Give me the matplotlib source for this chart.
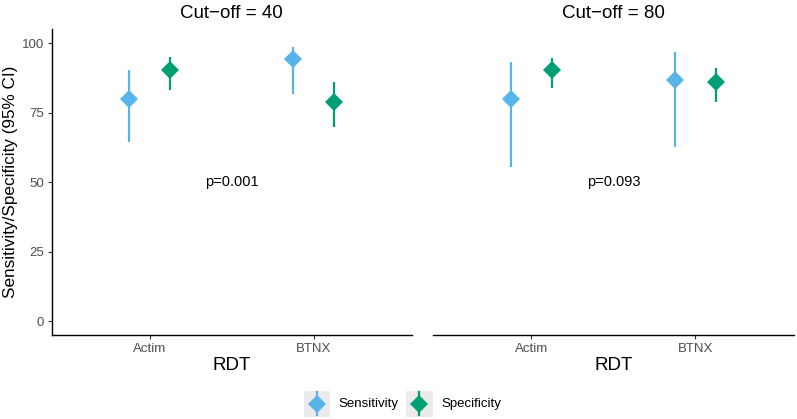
import matplotlib.pyplot as plt
from matplotlib.lines import Line2D
from matplotlib.patches import Rectangle

plt.rcParams["font.family"] = ["Liberation Sans", "DejaVu Sans"]

# data
rdt = ["Actim", "BTNX"]
cutoffs = [40, 80]
p_values = ["p=0.001", "p=0.093"]

sens_est = [[80.0, 94.3], [80.0, 86.6]]
sens_lo = [[64.4, 81.6], [55.4, 62.6]]
sens_hi = [[90.2, 98.8], [93.4, 96.8]]

spec_est = [[90.4, 79.0], [90.4, 86.1]]
spec_lo = [[83.0, 69.8], [83.8, 78.8]]
spec_hi = [[95.2, 86.1], [94.7, 91.2]]

col_sens = "#56B4E9"
col_spec = "#009E73"
dodge = 0.125

fig = plt.figure(figsize=(7.97, 4.19), dpi=100)
ax1 = fig.add_axes([0.0649, 0.2005, 0.4517, 0.7296])
ax2 = fig.add_axes([0.5429, 0.2005, 0.4533, 0.7296])

for i, ax in enumerate([ax1, ax2]):
    xs = [1, 2]
    series = [
        (sens_est[i], sens_lo[i], sens_hi[i], col_sens, -dodge),
        (spec_est[i], spec_lo[i], spec_hi[i], col_spec, dodge),
    ]
    for est, lo, hi, col, off in series:
        for j in range(len(xs)):
            ax.plot([xs[j] + off, xs[j] + off], [lo[j], hi[j]], color=col, lw=1.6,
                    solid_capstyle="butt", zorder=2)
        ax.plot([x + off for x in xs], est, linestyle="none", marker="D",
                markersize=9.5, color=col, markeredgewidth=0, zorder=3)

    ax.text(1.5, 50, p_values[i], ha="center", va="center", fontsize=10.5, color="black")

    ax.set_xlim(0.4, 2.6)
    ax.set_ylim(-5, 105)
    ax.set_xticks(xs)
    ax.set_xticklabels(rdt)
    ax.set_yticks([0, 25, 50, 75, 100])
    ax.set_title("Cut\u2212off = %d" % cutoffs[i], fontsize=13.5, pad=8)
    ax.set_xlabel("RDT", fontsize=13.5, labelpad=2)
    ax.tick_params(axis="both", length=3, width=0.8, color="#333333",
                   labelcolor="#4D4D4D", labelsize=9.5, pad=2.5)
    for s in ["top", "right"]:
        ax.spines[s].set_visible(False)
    ax.spines["bottom"].set_linewidth(1.0)
    ax.spines["left"].set_linewidth(1.0)

ax1.set_ylabel("Sensitivity/Specificity (95% CI)", fontsize=12.3, labelpad=3)
ax2.spines["left"].set_visible(False)
ax2.tick_params(axis="y", left=False, labelleft=False)

# legend drawn by hand, ggplot style keys
W, H = 797.0, 419.0
legend_items = [("Sensitivity", col_sens, 303.5, 338.5), ("Specificity", col_spec, 406.0, 441.5)]
for label, col, kx, tx in legend_items:
    fig.add_artist(Rectangle((kx / W, 1 - 416.5 / H), 26.5 / W, 26 / H,
                             transform=fig.transFigure, facecolor="#EBEBEB",
                             edgecolor="none"))
    cx = (kx + 13.25) / W
    fig.add_artist(Line2D([cx, cx], [1 - 415 / H, 1 - 392 / H], transform=fig.transFigure,
                          color=col, lw=1.6))
    fig.add_artist(Line2D([cx], [1 - 403.5 / H], transform=fig.transFigure, marker="D",
                          markersize=9.5, color=col, markeredgewidth=0, linestyle="none"))
    fig.text(tx / W, 1 - 404 / H, label, ha="left", va="center", fontsize=9.5)

fig.savefig("out.png", dpi=100)
